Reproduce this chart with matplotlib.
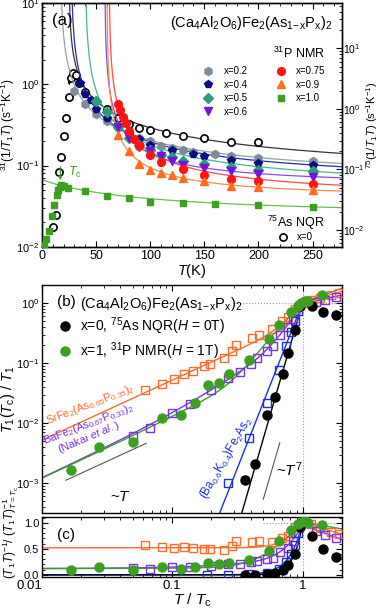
import numpy as np
import matplotlib.pyplot as plt
from matplotlib.ticker import LogLocator, MultipleLocator, NullFormatter, FixedLocator, FixedFormatter

plt.rcParams['font.family'] = ['Liberation Sans', 'DejaVu Sans']
plt.rcParams['mathtext.fontset'] = 'custom'
plt.rcParams['mathtext.rm'] = 'Liberation Sans'
plt.rcParams['mathtext.it'] = 'Liberation Sans:italic'
plt.rcParams['mathtext.bf'] = 'Liberation Sans:bold'
plt.rcParams['axes.linewidth'] = 1.0

# ---- panel (a): 1/T1T vs T ----
T_02 = [30, 40, 50, 60, 70, 80, 90, 100, 110, 120, 130, 140, 160, 175, 200, 250]
v_02 = [0.82, 0.57, 0.43, 0.35, 0.30, 0.26, 0.22, 0.20, 0.175, 0.165, 0.155, 0.145, 0.138, 0.132, 0.124, 0.113]
T_04 = [35, 40, 45, 50, 60, 70, 80, 90, 100, 120, 140, 150, 175, 200, 250]
v_04 = [1.05, 0.75, 0.65, 0.50, 0.38, 0.30, 0.25, 0.21, 0.18, 0.155, 0.138, 0.131, 0.117, 0.109, 0.102]
T_05 = [50, 60, 70, 80, 90, 100, 110, 120, 130, 150, 175, 200, 250]
v_05 = [0.62, 0.45, 0.30, 0.22, 0.18, 0.155, 0.135, 0.127, 0.115, 0.104, 0.095, 0.089, 0.085]
T_06 = [70, 80, 90, 100, 110, 120, 130, 150, 175, 200, 250]
v_06 = [0.30, 0.22, 0.168, 0.150, 0.130, 0.113, 0.103, 0.093, 0.085, 0.078, 0.073]
T_075 = [70, 72.5, 75, 77.5, 80, 85, 90, 100, 110, 130, 150, 175, 200, 250]
v_075 = [0.58, 0.48, 0.40, 0.33, 0.27, 0.21, 0.175, 0.135, 0.11, 0.09, 0.077, 0.069, 0.065, 0.060]
T_09 = [70, 80, 90, 100, 110, 120, 130, 150, 175, 200, 250]
v_09 = [0.24, 0.15, 0.105, 0.088, 0.080, 0.076, 0.070, 0.064, 0.056, 0.054, 0.050]
T_10 = [2, 4, 6.5, 9.5, 11.5, 13.5, 15, 16.5, 18, 20, 24, 40, 60, 80, 100, 130, 160, 200, 250]
v_10 = [0.0106, 0.0124, 0.0155, 0.024, 0.033, 0.043, 0.050, 0.055, 0.057, 0.056, 0.053, 0.049, 0.042,
        0.040, 0.036, 0.035, 0.034, 0.033, 0.031]
# 75As NQR x=0 (right axis)
T_00 = [10.7, 13, 15.4, 17.6, 20.6, 22.2, 25.3, 26.9, 28.3, 31.5, 34.5, 40, 60, 70, 80, 90, 100,
        115, 130, 150, 175, 200]
v_00 = [0.0113, 0.0177, 0.092, 0.163, 0.357, 0.70, 1.55, 3.2, 3.87, 3.62, 2.70, 1.92, 0.98, 0.70,
        0.56, 0.49, 0.45, 0.405, 0.361, 0.327, 0.288, 0.288]

# Curie-Weiss type fits a + b/(T - theta)
fit_a = {'0.2': (0.06, 12.0, 17), '0.4': (0.056, 10.2, 27), '0.5': (0.047, 8.0, 40),
         '0.6': (0.054, 3.65, 58), '0.75': (0.0378, 4.18, 62), '0.9': (0.0382, 2.235, 60),
         '1.0': (0.0224, 2.68, -60), '0': (0.055, 32.4, 25)}

# ---- panels (b), (c): T/Tc ----
t_sr = [0.062, 0.083, 0.103, 0.123, 0.144, 0.176, 0.194, 0.25, 0.29, 0.31, 0.41, 0.46, 0.58, 0.70,
        0.78, 0.88, 0.95, 1.0, 1.07, 1.17, 1.37, 1.64, 1.9]
v_sr = [0.036, 0.045, 0.054, 0.066, 0.074, 0.089, 0.096, 0.12, 0.16, 0.2, 0.26, 0.30, 0.37, 0.50,
        0.58, 0.80, 0.92, 1.0, 1.07, 1.15, 1.22, 1.36, 1.5]
t_ba = [0.05, 0.067, 0.1, 0.137, 0.2, 0.27, 0.33, 0.40, 0.45, 0.53, 0.59, 0.67, 0.77, 0.84, 0.88,
        0.94, 1.26, 1.5, 1.8]
v_ba = [0.0062, 0.0082, 0.015, 0.021, 0.036, 0.056, 0.072, 0.096, 0.12, 0.16, 0.19, 0.29, 0.40,
        0.55, 0.70, 0.89, 1.05, 1.15, 1.27]
t_bk = [0.185, 0.27, 0.39, 0.53, 0.66, 0.75, 0.81, 0.87, 0.93]
v_bk = [0.0002, 0.001, 0.0056, 0.022, 0.078, 0.19, 0.33, 0.50, 0.75]
t_x0 = [0.36, 0.43, 0.535, 0.61, 0.71, 0.77, 0.88, 0.96, 1.19, 1.44, 1.8]
v_x0 = [0.00115, 0.0021, 0.0135, 0.027, 0.065, 0.15, 0.36, 0.88, 0.89, 0.72, 0.63]
t_x1 = [0.0166, 0.0276, 0.05, 0.083, 0.116, 0.15, 0.187, 0.23, 0.275, 0.385, 0.55, 0.66, 0.82, 0.92,
        0.98, 1.05, 1.11, 1.41]
v_x1 = [0.00165, 0.0040, 0.0049, 0.012, 0.0136, 0.0213, 0.043, 0.046, 0.065, 0.113, 0.248, 0.43,
        0.70, 0.90, 1.0, 1.08, 1.1, 1.36]

c02, c04, c05, c06 = '#7d8d98', '#0b0b82', '#2b9c7c', '#7412e0'
c075, c09, c10 = '#ff1414', '#ff6c1e', '#3c9f22'
c_sr, c_ba, c_bk = '#ff6a2e', '#7a32e2', '#1a2fe0'
formula = r'(Ca$_4$Al$_2$O$_6$)Fe$_2$(As$_{\mathrm{1\!-\!x}}$P$_\mathrm{x}$)$_2$'


def style(ax):
    ax.tick_params(which='both', direction='in', top=True, right=True, labelsize=8, pad=2)
    ax.tick_params(which='major', length=4, width=0.8)
    ax.tick_params(which='minor', length=2, width=0.6)


fig = plt.figure(figsize=(3.81, 6.08), dpi=100)
axa = fig.add_axes([0.110, 0.594, 0.787, 0.401])
axb = fig.add_axes([0.110, 0.156, 0.787, 0.375])
axc = fig.add_axes([0.110, 0.051, 0.787, 0.0987])

# ===== (a) =====
axa.set_yscale('log')
axa.set_xlim(0, 277)
axa.set_ylim(0.01, 10)
ax2 = axa.twinx()
ax2.set_yscale('log')
ax2.set_ylim(0.00526, 56)

for key, lc in [('0.2', '#8fa3b0'), ('0.4', '#2a2aa8'), ('0.5', '#45b594'), ('0.6', '#8a4ae8'),
                ('0.75', '#ff4a4a'), ('0.9', '#ff8a4a'), ('1.0', '#66c048')]:
    a, b, th = fit_a[key]
    T0 = max(th + b / (10 - a), 0)
    Tf = np.linspace(T0, 277, 500)
    axa.plot(Tf, a + b / (Tf - th), color=lc, lw=0.9, zorder=2)
a, b, th = fit_a['0']
Tf = np.linspace(th + b / (56 - a), 277, 500)
ax2.plot(Tf, a + b / (Tf - th), color='#333333', lw=0.9, zorder=2)

ms = 5.2
h02, = axa.plot(T_02, v_02, 'h', color=c02, ms=ms + 0.6, ls='none', zorder=3)
h04, = axa.plot(T_04, v_04, 'p', color=c04, ms=ms + 0.6, ls='none', zorder=3)
h05, = axa.plot(T_05, v_05, 'D', color=c05, ms=ms - 0.6, ls='none', zorder=3)
h06, = axa.plot(T_06, v_06, 'v', color=c06, ms=ms + 0.6, ls='none', zorder=3)
h075, = axa.plot(T_075, v_075, 'o', color=c075, ms=ms + 0.4, ls='none', zorder=3)
h09, = axa.plot(T_09, v_09, '^', color=c09, ms=ms + 0.6, ls='none', zorder=3)
h10, = axa.plot(T_10, v_10, 's', color=c10, ms=ms - 0.2, ls='none', zorder=3)
h00, = ax2.plot(T_00, v_00, 'o', mfc='white', mec='black', mew=1.2, ms=ms, ls='none', zorder=4)

axa.set_zorder(ax2.get_zorder() + 1)
axa.patch.set_visible(False)

style(axa)
style(ax2)
ax2.tick_params(labelsize=7.5, pad=1)
axa.tick_params(right=False, which='both')
axa.tick_params(axis='x', labelsize=9)
axa.xaxis.set_major_locator(MultipleLocator(50))
axa.xaxis.set_minor_locator(MultipleLocator(10))
axa.yaxis.set_major_locator(LogLocator(base=10, numticks=10))
axa.yaxis.set_minor_locator(LogLocator(base=10, subs=np.arange(2, 10), numticks=10))
axa.yaxis.set_minor_formatter(NullFormatter())
ax2.yaxis.set_minor_formatter(NullFormatter())
axa.set_xlabel(r'$T$(K)', fontsize=10.5, labelpad=0)
axa.set_ylabel(r'$^{31}$(1/$T_1T$) (s$^{-1}$K$^{-1}$)', fontsize=8.5)
axa.yaxis.set_label_coords(-0.082, 0.5)
ax2.set_ylabel(r'$^{75}$(1/$T_1T$) (s$^{-1}$K$^{-1}$)', fontsize=8, rotation=90)
ax2.yaxis.set_label_coords(1.075, 0.5)

axa.text(0.035, 0.96, '(a)', transform=axa.transAxes, fontsize=12, va='top')
axa.text(0.97, 0.955, formula, transform=axa.transAxes, fontsize=10.5, va='top', ha='right')
axa.text(0.943, 0.795, r'$^{31}$P NMR', transform=axa.transAxes, fontsize=9, ha='right',
         va='center')
leg = axa.legend([h02, h04, h05, h06, h075, h09, h10],
                 ['x=0.2', 'x=0.4', 'x=0.5', 'x=0.6', 'x=0.75', 'x=0.9', 'x=1.0'],
                 ncol=2, loc='upper left', bbox_to_anchor=(0.534, 0.742), frameon=False,
                 fontsize=7, labelspacing=0.37, handletextpad=1.0, columnspacing=2.8,
                 handlelength=1.2, borderaxespad=0, borderpad=0)
axa.add_artist(leg)
axa.text(0.943, 0.098, r'$^{75}$As NQR', transform=axa.transAxes, fontsize=9, ha='right',
         va='center')
axa.legend([h00], ['x=0'], loc='upper left', bbox_to_anchor=(0.783, 0.061), frameon=False,
           fontsize=7, handletextpad=0.9, handlelength=1.2, borderaxespad=0, borderpad=0)

axa.annotate('', xy=(17, 0.061), xytext=(17, 0.105),
             arrowprops=dict(arrowstyle='-|>', color=c10, lw=0.8, mutation_scale=5))
axa.text(24, 0.083, r'$T_\mathrm{c}$', color=c10, fontsize=9, va='center')
axa.annotate('', xy=(25.3, 0.9), xytext=(25.3, 1.2),
             arrowprops=dict(arrowstyle='-|>', color='black', lw=0.6, mutation_scale=4))

# ===== (b) =====
tt = np.logspace(-2, np.log10(2), 600)


def r_model(t, r0, b, c, k, s):
    r = r0 + b * t + c * np.exp(-k * (1 / t - 1))
    rn = (r0 + b + c) * (1 + s) / (t + s)
    return np.where(t <= 1, r, rn)


r_sr = r_model(tt, 0.52, 0.0, 0.48, 3.0, 2.55)
r_ba = r_model(tt, 0.12, 0.3, 0.53, 3.0, 1.52)
r_x1 = r_model(tt, 0.12, 0.1, 0.78, 1.3, 6.3)
tl = np.logspace(-2, 0, 400)
v_bkl = tl ** 5.5
v_x0l = tl ** 7.5

for ax in (axb, axc):
    ax.set_xscale('log')
    ax.set_xlim(0.01, 2.0)
    ax.axvline(1, color='#999999', ls=':', lw=0.8, zorder=1)

axb.set_yscale('log')
axb.set_ylim(10 ** -3.5, 10 ** 0.3)
axb.hlines(1, 0.3, 2, color='#999999', ls=':', lw=0.8, zorder=1)
axc.set_ylim(-0.04, 1.11)
axc.hlines(1, 0.5, 2, color='#999999', ls=':', lw=0.8, zorder=1)

axb.plot(tt, r_sr * tt, color=c_sr, lw=1.0, zorder=2)
axb.plot(tt, r_ba * tt, color=c_ba, lw=1.0, zorder=2)
axb.plot(tt, r_x1 * tt, color=c10, lw=1.0, zorder=2)
axb.plot(tl, v_bkl, color=c_bk, lw=1.0, zorder=2)
axb.plot(tl, v_x0l, color='black', lw=1.0, zorder=2)
axc.plot(tt, r_sr, color=c_sr, lw=1.0, zorder=2)
axc.plot(tt, r_ba, color=c_ba, lw=1.0, zorder=2)
axc.plot(tt, r_x1, color=c10, lw=1.0, zorder=2)
axc.plot(tl, v_bkl / tl, color=c_bk, lw=1.0, zorder=2)
axc.plot(tl, v_x0l / tl, color='black', lw=1.0, zorder=2)

sq = dict(marker='s', mfc='none', ms=5.2, mew=1.0, ls='none', zorder=3)
for ax, f in ((axb, lambda t, v: v), (axc, lambda t, v: v / t)):
    tsr, tba, tbk = np.array(t_sr), np.array(t_ba), np.array(t_bk)
    tx0, tx1 = np.array(t_x0), np.array(t_x1)
    ax.plot(tsr, f(tsr, np.array(v_sr)), mec=c_sr, **sq)
    ax.plot(tba, f(tba, np.array(v_ba)), mec=c_ba, **sq)
    ax.plot(tbk, f(tbk, np.array(v_bk)), mec=c_bk, **sq)
    hx0, = ax.plot(tx0, f(tx0, np.array(v_x0)), 'o', color='black', ms=6.5, ls='none', zorder=4)
    hx1, = ax.plot(tx1, f(tx1, np.array(v_x1)), 'o', color=c10, ms=6.5, ls='none', zorder=4)

# guide lines ~T and ~T^7
axb.plot([0.0153, 0.063], [0.00112, 0.0046], color='#555555', lw=0.8)
axb.plot([0.50, 0.669], [0.00054, 0.0047], color='#555555', lw=0.8)
axb.text(0.04, 0.00059, r'~$T$', fontsize=11, ha='center', va='center')
axb.text(0.79, 0.0017, r'~$T^7$', fontsize=11, ha='center', va='center')

axb.text(0.05, 0.955, '(b)', transform=axb.transAxes, fontsize=11, va='top')
axb.text(0.127, 0.955, formula, transform=axb.transAxes, fontsize=10.5, va='top')
axb.legend([hx0, hx1], [r'x=0, $^{75}$As NQR($H$ = 0T)', r'x=1, $^{31}$P NMR($H$ = 1T)'],
           loc='upper left', bbox_to_anchor=(0.053, 0.868), frameon=False, fontsize=10,
           handletextpad=0.6, handlelength=1.0, labelspacing=0.25, borderaxespad=0, borderpad=0)

axb.text(0.0235, 0.020, r'SrFe$_2$(As$_{0.65}$P$_{0.35}$)$_2$', color=c_sr, fontsize=8,
         rotation=21, ha='center', va='center')
axb.text(0.0226, 0.0095, r'BaFe$_2$(As$_{0.67}$P$_{0.33}$)$_2$', color=c_ba, fontsize=8,
         rotation=21, ha='center', va='center')
axb.text(0.0230, 0.0058, r'(Nakai $et$ $al.$)', color=c_ba, fontsize=8,
         rotation=23, ha='center', va='center')
axb.text(0.26, 0.0026, r'(Ba$_{0.6}$K$_{0.4}$)Fe$_2$As$_2$', color=c_bk, fontsize=8.5,
         rotation=60, ha='center', va='center')

for ax in (axb, axc):
    style(ax)
    ax.xaxis.set_major_locator(FixedLocator([0.01, 0.1, 1]))
    ax.xaxis.set_minor_locator(LogLocator(base=10, subs=np.arange(2, 10), numticks=10))
    ax.xaxis.set_minor_formatter(NullFormatter())
axb.xaxis.set_major_formatter(NullFormatter())
axc.xaxis.set_major_formatter(FixedFormatter(['0.01', '0.1', '1']))
axb.yaxis.set_major_locator(LogLocator(base=10, numticks=10))
axb.yaxis.set_minor_locator(LogLocator(base=10, subs=np.arange(2, 10), numticks=10))
axb.yaxis.set_minor_formatter(NullFormatter())
axc.yaxis.set_major_locator(FixedLocator([0, 0.5, 1.0]))
axc.yaxis.set_major_formatter(FixedFormatter(['0.0', '0.5', '1.0']))
axc.yaxis.set_minor_locator(MultipleLocator(0.1))
axc.tick_params(axis='x', labelsize=9.5)
axc.get_xticklabels()[0].set_ha('right')

axb.set_ylabel(r'$T_1(T_\mathrm{c})$ / $T_1$', fontsize=10.5)
axb.yaxis.set_label_coords(-0.082, 0.5)
axc.set_ylabel(r'$(T_1T)^{-1}$/ $(T_1T)^{-1}_{T=T_\mathrm{c}}$', fontsize=8.5)
axc.yaxis.set_label_coords(-0.07, 0.75)
axc.set_xlabel(r'$T$ / $T_\mathrm{c}$', fontsize=11, labelpad=0)
axc.text(0.05, 0.82, '(c)', transform=axc.transAxes, fontsize=11, va='top')

fig.savefig('out.png', dpi=100)
